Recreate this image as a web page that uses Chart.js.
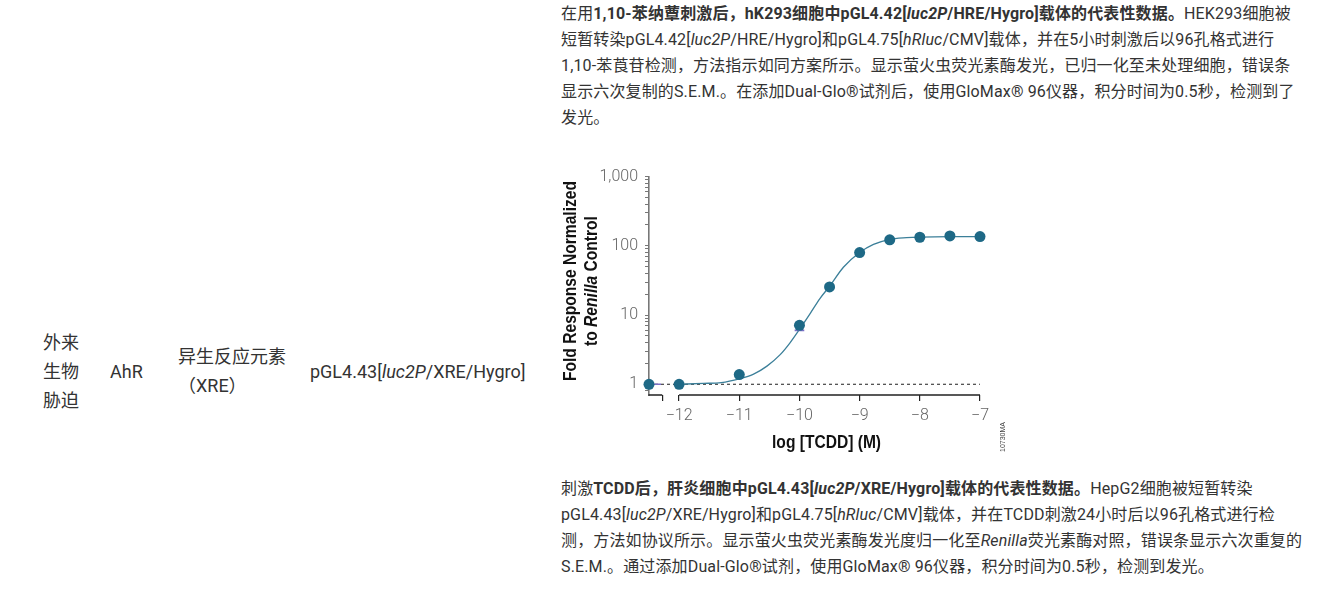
<!DOCTYPE html>
<html>
<head>
<meta charset="utf-8">
<script src="https://cdn.jsdelivr.net/npm/chart.js@4.4.1/dist/chart.umd.min.js"></script>
<style>
  html, body { margin:0; padding:0; background:#fff; }
  body { width:1320px; height:599px; position:relative; overflow:hidden;
         font-family: Roboto, "Noto Sans CJK SC", sans-serif; color:#333; font-size:16px; }
  .cell { position:absolute; line-height:29px; font-size:18px; }
  .para { position:absolute; left:561px; width:744px; line-height:26px; font-size:16px; letter-spacing:0.14px; }
  b { font-weight:700; }
  #chartBox { position:absolute; left:555px; top:160px; width:460px; height:300px; }
</style>
</head>
<body>
<div class="cell" style="left:43px; top:328px; width:37px;">外来生物胁迫</div>
<div class="cell" style="left:110px; top:357px;">AhR</div>
<div class="cell" style="left:178px; top:342px; width:112px;">异生反应元素（XRE）</div>
<div class="cell" style="left:310px; top:357px;">pGL4.43[<i>luc2P</i>/XRE/Hygro]</div>

<div class="para" style="top:1px;">在用<b>1,10-苯纳蕈刺激后，hK293细胞中pGL4.42[<i>luc2P</i>/HRE/Hygro]载体的代表性数据。</b>HEK293细胞被短暂转染pGL4.42[<i>luc2P</i>/HRE/Hygro]和pGL4.75[<i>hRluc</i>/CMV]载体，并在5小时刺激后以96孔格式进行1,10-苯莨苷检测，方法指示如同方案所示。显示萤火虫荧光素酶发光，已归一化至未处理细胞，错误条显示六次复制的S.E.M.。在添加Dual-Glo®试剂后，使用GloMax® 96仪器，积分时间为0.5秒，检测到了发光。</div>

<div id="chartBox"><canvas id="c" width="460" height="300"></canvas></div>

<div class="para" style="top:476px;">刺激<b>TCDD后，肝炎细胞中pGL4.43[<i>luc2P</i>/XRE/Hygro]载体的代表性数据。</b>HepG2细胞被短暂转染pGL4.43[<i>luc2P</i>/XRE/Hygro]和pGL4.75[<i>hRluc</i>/CMV]载体，并在TCDD刺激24小时后以96孔格式进行检测，方法如协议所示。显示萤火虫荧光素酶发光度归一化至<i>Renilla</i>荧光素酶对照，错误条显示六次重复的S.E.M.。通过添加Dual-Glo®试剂，使用GloMax® 96仪器，积分时间为0.5秒，检测到发光。</div>

<script>
// ---- data ----
const pointX = [-12.5, -12, -11, -10, -9.5, -9, -8.5, -8, -7.5, -7];
const pointY = [1.0, 1.0, 1.38, 7.1, 25.5, 80, 122, 133, 139, 136];
const curveX = [-12, -11.6, -11.3, -11, -10.77, -10.54, -10.32, -10.16, -10, -9.82, -9.66, -9.5, -9.27, -9, -8.77, -8.51, -8.22, -8, -7.5, -7];
const curveY = [1.0, 1.03, 1.06, 1.2, 1.39, 1.83, 2.68, 3.94, 6.2, 10.6, 17.3, 26, 49, 80, 105, 123, 131, 134, 136, 136];
const baselineX = [-12.5, -7];
const baselineY = [1, 1];
const errX = [-12.5, -12.3, -12.2, -10.08, -9.92];
const errY = [1, 1, null, 6.0, 6.0];
const xTickValues = [-12.28, -12, -11, -10, -9, -8, -7];
const xTickLabels = ['', '\u221212', '\u221211', '\u221210', '\u22129', '\u22128', '\u22127'];
const yTickValues = [1, 10, 100, 1000];
const yTickLabels = ['1', '10', '100', '1,000'];
const yMinorTicks = [0.8, 0.9, 1,2,3,4,5,6,7,8,9, 10,20,30,40,50,60,70,80,90, 100,200,300,400,500,600,700,800,900, 1000];
const xMin = -12.5, xMax = -7, yMin = 0.72, yMax = 1000;
const xBreak = [-12.28, -12];
const xTitle = 'log [TCDD] (M)';
const yTitle1 = 'Fold Response Normalized';
const yTitle2 = ['to ', 'Renilla', ' Control'];
const figCode = '10730MA';

const zip = (xs, ys) => xs.map((x, i) => ({x, y: ys[i]}));

const titleFont = '"Liberation Sans", Arial, sans-serif';
const condense = 0.82;

const decor = {
  id: 'decor',
  beforeDatasetsDraw(chart) {
    const {ctx, scales:{x}} = chart;
    const yb = chart.chartArea.bottom;
    ctx.save();
    ctx.strokeStyle = '#222';
    ctx.lineWidth = 1.3;
    ctx.beginPath();
    ctx.moveTo(x.getPixelForValue(xMin) - 0.6, yb);
    ctx.lineTo(x.getPixelForValue(xBreak[0]), yb);
    ctx.moveTo(x.getPixelForValue(xBreak[1]), yb);
    ctx.lineTo(x.getPixelForValue(xMax), yb);
    ctx.stroke();
    ctx.restore();
  },
  afterDraw(chart) {
    const {ctx, scales:{x}} = chart;
    ctx.save();
    ctx.fillStyle = '#111';
    ctx.textBaseline = 'middle';
    const fN = 'bold 19px ' + titleFont, fI = 'italic bold 19px ' + titleFont;
    // x title
    ctx.save();
    const xc = (x.getPixelForValue(xTickValues[1]) + x.getPixelForValue(xMax)) / 2 - 3;
    ctx.translate(xc, 283);
    ctx.scale(condense, 1);
    ctx.font = fN;
    ctx.textAlign = 'center';
    ctx.fillText(xTitle, 0, 0);
    ctx.restore();
    // y title line 1
    ctx.save();
    ctx.translate(16, 121);
    ctx.rotate(-Math.PI / 2);
    ctx.scale(condense, 1);
    ctx.font = fN;
    ctx.textAlign = 'center';
    ctx.fillText(yTitle1, 0, 0);
    ctx.restore();
    // y title line 2 (mixed italic)
    ctx.save();
    ctx.translate(37, 121);
    ctx.rotate(-Math.PI / 2);
    ctx.scale(condense, 1);
    ctx.font = fN; const w0 = ctx.measureText(yTitle2[0]).width, w2 = ctx.measureText(yTitle2[2]).width;
    ctx.font = fI; const w1 = ctx.measureText(yTitle2[1]).width;
    let sx = -(w0 + w1 + w2) / 2;
    ctx.textAlign = 'left';
    ctx.font = fN; ctx.fillText(yTitle2[0], sx, 0); sx += w0;
    ctx.font = fI; ctx.fillText(yTitle2[1], sx, 0); sx += w1;
    ctx.font = fN; ctx.fillText(yTitle2[2], sx, 0);
    ctx.restore();
    // figure code
    ctx.save();
    ctx.translate(448, 277);
    ctx.rotate(-Math.PI / 2);
    ctx.font = '7px "Liberation Sans", Arial, sans-serif';
    ctx.fillStyle = '#444';
    ctx.textAlign = 'center';
    ctx.fillText(figCode, 0, 0);
    ctx.restore();
    ctx.restore();
  }
};

new Chart(document.getElementById('c'), {
  type: 'scatter',
  data: {
    datasets: [
      { label: 'points', data: zip(pointX, pointY), showLine: false,
        pointRadius: 5.5, pointHoverRadius: 5.5, pointBackgroundColor: '#1e6986', pointBorderColor: '#1e6986',
        pointBorderWidth: 0, order: 0, clip: false },
      { label: 'err', data: zip(errX, errY), showLine: true, spanGaps: false,
        borderColor: '#7b70c6', borderWidth: 1.6, pointRadius: 0, order: 1, clip: false },
      { label: 'fit', data: zip(curveX, curveY), showLine: true, cubicInterpolationMode: 'monotone',
        borderColor: '#3b7f99', borderWidth: 1.3, pointRadius: 0, order: 2, clip: false },
      { label: 'baseline', data: zip(baselineX, baselineY), showLine: true,
        borderColor: '#333', borderWidth: 1.1, borderDash: [3, 3], pointRadius: 0, order: 3, clip: false }
    ]
  },
  options: {
    responsive: false,
    animation: false,
    devicePixelRatio: 1,
    events: [],
    layout: { padding: { top: 15, right: 35, left: 0, bottom: 0 } },
    plugins: { legend: { display: false }, tooltip: { enabled: false } },
    scales: {
      x: {
        type: 'linear', min: xMin, max: xMax,
        afterBuildTicks: s => { s.ticks = xTickValues.map(v => ({value: v})); },
        afterFit: s => { s.height = 65; },
        border: { display: false },
        grid: { drawOnChartArea: false, drawTicks: true, tickLength: 6, color: '#222', lineWidth: 1.2 },
        ticks: {
          autoSkip: false, maxRotation: 0, padding: 5, color: '#666',
          font: { family: 'Roboto, "Liberation Sans", sans-serif', size: 16, weight: '300' },
          callback: (v) => { const i = xTickValues.indexOf(v); return i >= 0 ? xTickLabels[i] : ''; }
        }
      },
      y: {
        type: 'logarithmic', min: yMin, max: yMax,
        afterBuildTicks: s => { s.ticks = yMinorTicks.map(v => ({value: v})); },
        afterFit: s => { s.width = 94; },
        border: { display: true, color: '#777', width: 1.6 },
        grid: { drawOnChartArea: false, drawTicks: true, tickLength: 4, color: '#777', lineWidth: 1 },
        ticks: {
          autoSkip: false, padding: 7, color: '#666',
          font: { family: 'Roboto, "Liberation Sans", sans-serif', size: 16, weight: '300' },
          callback: (v) => { const i = yTickValues.indexOf(v); return i >= 0 ? yTickLabels[i] : ''; }
        }
      }
    }
  },
  plugins: [decor]
});
</script>
</body>
</html>
